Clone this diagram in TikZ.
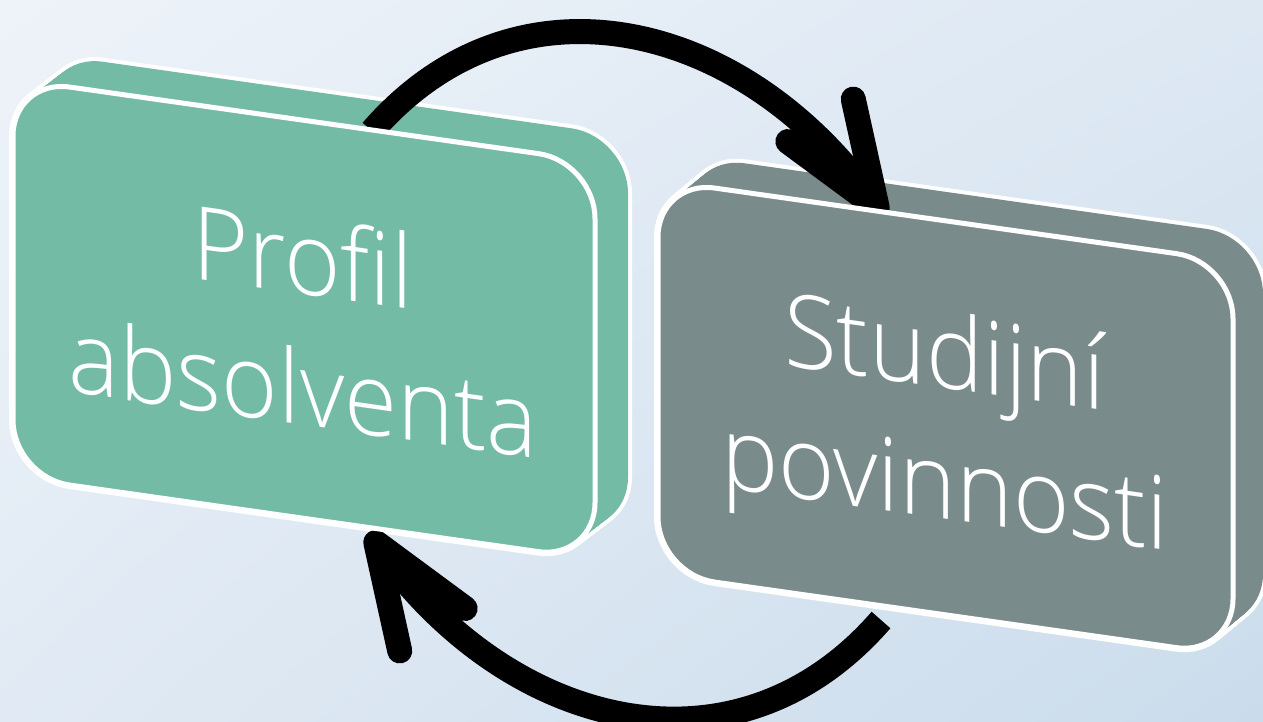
\documentclass[tikz,border=0pt]{standalone}
\usepackage{fontspec}
\IfFontExistsTF{Open Sans Light}
  {\setmainfont{Open Sans Light}[FakeStretch=0.945]}
  {\setmainfont{Open Sans}[FakeStretch=0.945]}
\usetikzlibrary{arrows.meta,bending,shadings}

\definecolor{profilgreen}{HTML}{73BBA5}
\definecolor{povingray}{HTML}{7A8B8B}
\definecolor{bgul}{HTML}{EEF3F9}
\definecolor{bgur}{HTML}{DDE8F3}
\definecolor{bgll}{HTML}{E1EAF4}
\definecolor{bglr}{HTML}{CADCEC}

\tikzset{
  leftframe/.style={shift={(13,79)}, yslant=-0.142},
  rightframe/.style={shift={(658,180)}, yslant=-0.142},
  hullline/.style={draw=white, fill=white, line width=8pt, rounded corners=57pt},
  hullfill/.style={rounded corners=57pt},
  face/.style={draw=white, line width=5pt, rounded corners=57pt},
  looparrow/.style={line width=25pt, -{Straight Barb[length=104pt, width=78pt, round, flex]}},
  boxtext/.style={text=white, align=center, transform shape, font=\fontsize{102}{131}\selectfont}
}

\begin{document}
\begin{tikzpicture}[x=1pt,y=-1pt]
\useasboundingbox (0,0) rectangle (1263,721);
\clip (0,0) rectangle (1263,721);
\shade[upper left=bgul, upper right=bgur, lower left=bgll, lower right=bglr] (0,0) rectangle (1263,721);

% depth of the two boxes
\begin{scope}[leftframe]
  \foreach \k in {0,...,24}
    \path[hullline, shift={(33*\k/24,-30*\k/24)}] (0,0) rectangle (582,398);
  \foreach \k in {0,...,24}
    \fill[profilgreen, hullfill, shift={(33*\k/24,-30*\k/24)}] (0,0) rectangle (582,398);
\end{scope}
\begin{scope}[rightframe]
  \foreach \k in {0,...,24}
    \path[hullline, shift={(30*\k/24,-29*\k/24)}] (0,0) rectangle (575,394);
  \foreach \k in {0,...,24}
    \fill[povingray, hullfill, shift={(30*\k/24,-29*\k/24)}] (0,0) rectangle (575,394);
\end{scope}

% arrows between the boxes
\coordinate (topstart) at (372,131);
\coordinate (toptip) at (884,218);
\coordinate (botstart) at (881,620);
\coordinate (bottip) at (369,532);
\draw[looparrow] (topstart) to[out=49, in=123, looseness=1.13] (toptip);
\draw[looparrow] (botstart) to[out=229, in=303, looseness=1.13] (bottip);

% front faces
\begin{scope}[leftframe]
  \path[face, fill=profilgreen] (0,0) rectangle (582,398);
  \node[boxtext] (profil) at (290,201) {Profil\\absolventa};
\end{scope}
\begin{scope}[rightframe]
  \path[face, fill=povingray] (0,0) rectangle (575,394);
  \node[boxtext] (povinnosti) at (287,206) {Studijní\\povinnosti};
\end{scope}
\end{tikzpicture}
\end{document}
